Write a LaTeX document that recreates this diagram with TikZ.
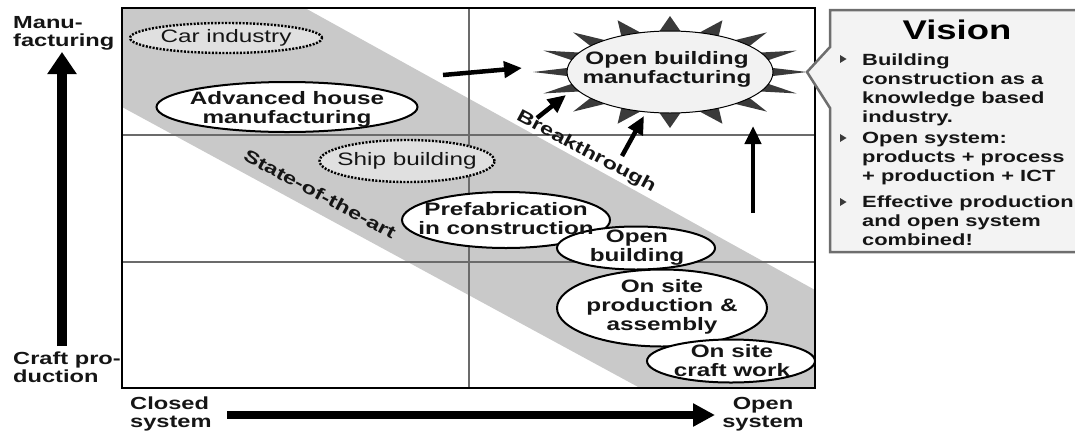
\documentclass[tikz,border=0pt]{standalone}
\usepackage{fontspec}
\setmainfont{Liberation Sans}[FakeStretch=1.35]
\usetikzlibrary{shapes.geometric,arrows.meta}
\definecolor{bandgray}{HTML}{C9C9C9}
\definecolor{gridgray}{HTML}{6B6B6B}
\definecolor{dotfill}{HTML}{E0E0E0}
\definecolor{stargray}{HTML}{3A3A3A}
\definecolor{starin}{HTML}{F2F2F2}
\definecolor{visfill}{HTML}{F3F3F3}
\definecolor{visline}{HTML}{6E6E6E}
\definecolor{txt}{HTML}{151515}
\newcommand\myfs[2]{\fontsize{#1}{#2}\selectfont}
\begin{document}
\begin{tikzpicture}[x=1pt,y=-1pt,
  ell/.style={ellipse, draw=black, line width=2pt, fill=white, inner sep=0pt},
  dotell/.style={ellipse, draw=black, line width=2.4pt, dash pattern=on 2pt off 1.5pt, fill=dotfill, inner sep=0pt},
  lbl/.style={font=\bfseries\myfs{18}{19}, align=center, inner sep=0pt, text=txt},
  rlbl/.style={font=\myfs{18}{19}, align=center, inner sep=0pt, text=txt},
  axlbl/.style={font=\bfseries\myfs{17.5}{18}, inner sep=0pt, text=txt},
  vistxt/.style={font=\bfseries\myfs{16.2}{19}, align=left, anchor=north west, inner sep=0pt, text=txt},
  arr/.style={line width=4.5pt, -{Triangle[length=18pt,width=16pt]}},
  bigarr/.style={line width=10pt, -{Triangle[length=22pt,width=28pt]}},
  midarr/.style={line width=8pt, -{Triangle[length=22pt,width=22pt]}},
  bullet/.style={fill=stargray}
]
\useasboundingbox (0,0) rectangle (1075,432);

% band
\fill[bandgray] (122,8) -- (305,8) -- (815,290) -- (815,388) -- (640,388) -- (122,107) -- cycle;

% grid
\draw[gridgray, line width=1.3pt] (469,8) -- (469,388);
\draw[gridgray, line width=1.3pt] (122,135) -- (815,135);
\draw[gridgray, line width=1.3pt] (122,262) -- (815,262);

% ellipses
\node[dotell, minimum width=192pt, minimum height=30pt] (car) at (226,38) {};
\node[ell, minimum width=261pt, minimum height=50pt] (adv) at (287,107) {};
\node[dotell, minimum width=175pt, minimum height=42pt] (ship) at (407,161) {};
\node[ell, minimum width=208pt, minimum height=56pt] (prefab) at (506,220) {};
\node[ell, minimum width=158pt, minimum height=43pt] (openb) at (636,248) {};
\node[ell, minimum width=210pt, minimum height=77pt] (onsite) at (662,308) {};
\node[ell, minimum width=168pt, minimum height=43pt] (craft) at (731,361) {};

% star
\fill[stargray] plot[samples at={0,...,31}, variable=\k]
  ({670 + ifthenelse(mod(\k,2)==0,137,84)*cos(\k*11.25)},
   {72 + ifthenelse(mod(\k,2)==0,56,33)*sin(\k*11.25)}) -- cycle;
\node[ellipse, draw=black, line width=1pt, fill=starin, inner sep=0pt,
      minimum width=206pt, minimum height=82pt] (star) at (670,72) {};

% frame
\draw[black, line width=2.2pt] (122,8) rectangle (815,388);

% labels in ellipses
\node[rlbl] (cart) at (226,38) {Car industry};
\node[lbl] (advt) at (287,109) {Advanced house\\manufacturing};
\node[rlbl] (shipt) at (407,161) {Ship building};
\node[lbl] (prefabt) at (506,219) {Prefabrication\\in construction};
\node[lbl] (openbt) at (637,248) {Open\\building};
\node[lbl] (onsitet) at (662,307) {On site\\production \&\\assembly};
\node[lbl] (craftt) at (732,361) {On site\\craft work};
\node[lbl] (start) at (667,69) {Open building\\manufacturing};

% band labels
\node[font=\bfseries\myfs{17.5}{18}, rotate=-28, inner sep=0pt, text=txt] (soa) at (320,194) {State-of-the-art};
\node[font=\bfseries\myfs{17.5}{18}, rotate=-28, inner sep=0pt, text=txt] (brk) at (586,152) {Breakthrough};

% arrows toward the vision
\coordinate (a1s) at (443,75);
\coordinate (a1e) at (522,68);
\coordinate (a2s) at (537,118);
\coordinate (a2e) at (566,95);
\coordinate (a3s) at (622,156);
\coordinate (a3e) at (644,116);
\coordinate (a4s) at (753,213);
\coordinate (a4e) at (753,126);
\draw[arr] (a1s) -- (a1e);
\draw[arr] (a2s) -- (a2e);
\draw[arr] (a3s) -- (a3e);
\draw[arr] (a4s) -- (a4e);

% axes
\coordinate (vys) at (62,346);
\coordinate (vye) at (62,52);
\coordinate (hxs) at (227,415);
\coordinate (hxe) at (715,415);
\draw[bigarr] (vys) -- (vye);
\draw[midarr] (hxs) -- (hxe);

\node[axlbl, align=left, anchor=north west] (manu) at (13,16) {Manu-\\facturing};
\node[axlbl, align=left, anchor=north west] (craftp) at (13,352) {Craft pro-\\duction};
\node[axlbl, align=left, anchor=north west] (closed) at (130,397) {Closed\\system};
\node[axlbl, align=center, anchor=north] (opens) at (763,397) {Open\\system};

% vision box
\filldraw[fill=visfill, draw=visline, line width=2.5pt]
  (830,10) -- (1090,10) -- (1090,252) -- (830,252) -- (830,108) -- (807,72) -- (830,47) -- cycle;
\node[font=\bfseries\myfs{27}{27}, inner sep=0pt, text=black] (vision) at (957,30) {Vision};
\fill[bullet] (840,55) -- (840,63) -- (846.5,59) -- cycle;
\fill[bullet] (840,134) -- (840,142) -- (846.5,138) -- cycle;
\fill[bullet] (840,198) -- (840,206) -- (846.5,202) -- cycle;
\node[vistxt] (v1) at (862,54) {Building\\construction as a\\knowledge based\\industry.};
\node[vistxt] (v2) at (862,132) {Open system:\\products + process\\+ production + ICT};
\node[vistxt] (v3) at (862,196) {Effective production\\and open system\\combined!};
\end{tikzpicture}
\end{document}
